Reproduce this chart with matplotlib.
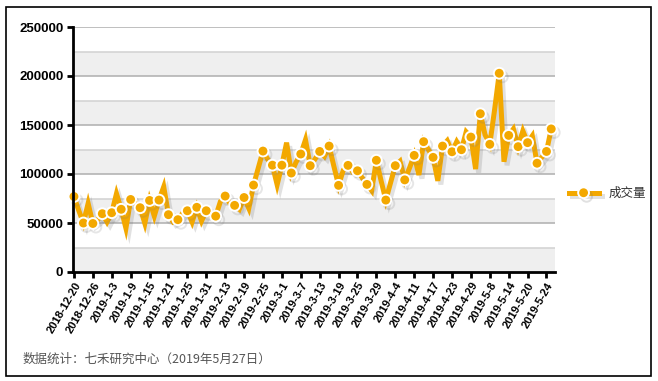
import matplotlib
matplotlib.use('Agg')
import matplotlib.pyplot as plt
import matplotlib.patheffects as pe
from matplotlib.lines import Line2D
from matplotlib.patches import Rectangle

# 成交量, one value per trading day 2018-12-20 .. 2019-5-27
volume = [77000, 63000, 50000, 70000, 49500, 53000, 59500, 51000, 60500, 80000,
          64000, 44600, 74000, 70000, 65600, 49600, 73000, 57000, 73400, 87000,
          58500, 51000, 53400, 60000, 62500, 51000, 66000, 52000, 62500, 58000,
          57000, 72000, 77500, 70000, 68000, 64000, 76000, 65000, 88700, 106000,
          123400, 115000, 109000, 89000, 109000, 132000, 101000, 112000, 120400, 135000,
          108500, 115000, 123000, 118000, 128500, 108000, 88400, 104000, 108800, 102000,
          103300, 96000, 89400, 83000, 114000, 93000, 73400, 91000, 108500, 113000,
          94000, 106000, 119000, 99000, 133000, 125000, 117000, 93000, 128500, 134000,
          122700, 133000, 124800, 143000, 137700, 105000, 161500, 140000, 130300, 165000,
          202800, 112500, 139400, 146000, 127900, 144000, 132000, 139000, 111000, 117000,
          123000, 146000]

# every 4th trading day gets a label
tick_labels = ['2018-12-20', '2018-12-26', '2019-1-3', '2019-1-9', '2019-1-15',
               '2019-1-21', '2019-1-25', '2019-1-31', '2019-2-13', '2019-2-19',
               '2019-2-25', '2019-3-1', '2019-3-7', '2019-3-13', '2019-3-19',
               '2019-3-25', '2019-3-29', '2019-4-4', '2019-4-11', '2019-4-17',
               '2019-4-23', '2019-4-29', '2019-5-8', '2019-5-14', '2019-5-20',
               '2019-5-24']

y_ticks = [0, 50000, 100000, 150000, 200000, 250000]
legend_label = '成交量'
footer = '数据统计：七禾研究中心（2019年5月27日）'

orange = '#F3A800'
plt.rcParams['font.family'] = ['Liberation Sans', 'DejaVu Sans']

fig = plt.figure(figsize=(6.58, 3.81), dpi=100)
ax = fig.add_axes([73 / 658, 109 / 381, 482 / 658, 245 / 381])

# alternating bands and grid
for k in range(10):
    lo = k * 25000
    if k % 2 == 0:
        ax.axhspan(lo, lo + 25000, color='#efefef', zorder=0, lw=0)
for k in range(1, 11):
    v = k * 25000
    ax.axhline(v, color='#b4b4b4' if k % 2 == 0 else '#d4d4d4', lw=1.2, zorder=1)


def soft_shadow(a):
    return [pe.SimpleLineShadow(offset=(2.2, -2.6), shadow_color='#777777', alpha=a),
            pe.Normal()]


x = list(range(len(volume)))
ax.plot(x, volume, color=orange, lw=3.6, solid_joinstyle='miter', zorder=3,
        path_effects=soft_shadow(0.22), clip_on=False)
mk = list(range(0, len(volume), 2)) + [len(volume) - 1]
ax.plot([x[i] for i in mk], [volume[i] for i in mk], ls='none', marker='o',
        ms=7.8, mfc=orange, mec='white', mew=1.4, zorder=4, clip_on=False,
        path_effects=soft_shadow(0.18))

ax.set_xlim(-0.2, 101.8)
ax.set_ylim(0, 250000)
ax.set_yticks(y_ticks)
ax.set_yticklabels([str(v) for v in y_ticks], fontsize=9.5, fontweight='bold')
ax.set_xticks(range(0, 4 * len(tick_labels), 4))
ax.set_xticklabels(tick_labels, rotation=60, ha='right', rotation_mode='anchor',
                   fontsize=8, fontweight='bold')
ax.tick_params(axis='both', direction='out', length=4, width=2, color='black')
ax.tick_params(axis='y', pad=3)
ax.tick_params(axis='x', pad=2)

for s in ['top', 'right']:
    ax.spines[s].set_visible(False)
for s in ['left', 'bottom']:
    ax.spines[s].set_linewidth(2)
    ax.spines[s].set_color('black')
    ax.spines[s].set_zorder(5)

handle = Line2D([], [], color=orange, lw=3.6, marker='o', ms=7.8, mfc=orange,
                mec='white', mew=1.4, path_effects=soft_shadow(0.22))
leg = ax.legend([handle], [legend_label], loc='center left', bbox_to_anchor=(1.01, 0.32),
                frameon=False, handlelength=2.4, numpoints=1, handletextpad=0.8,
                borderaxespad=0.3, prop={'family': ['Noto Sans CJK SC'], 'size': 9})
for t in leg.get_texts():
    t.set_color('#333333')

fig.text(23 / 658, 1 - 359 / 381, footer, fontsize=9, color='#555555',
         family=['Noto Sans CJK SC', 'DejaVu Sans'], va='center', ha='left')

fig.patches.append(Rectangle((6 / 658, 5 / 381), 645 / 658, 369 / 381,
                             transform=fig.transFigure, fill=False,
                             edgecolor='black', lw=1.2))

fig.savefig('out.png', dpi=100)
